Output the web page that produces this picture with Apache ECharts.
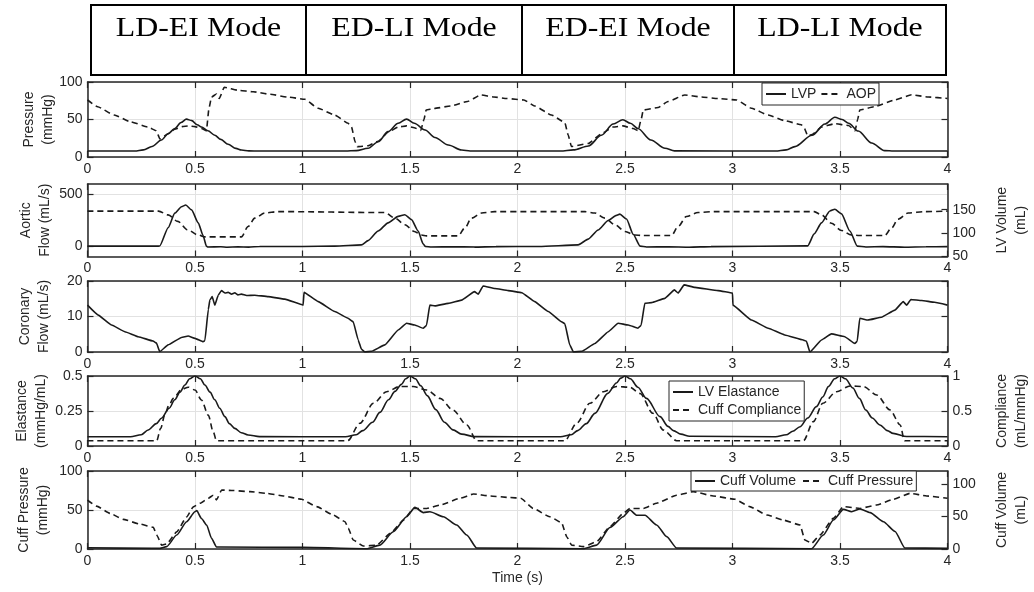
<!DOCTYPE html>
<html><head><meta charset="utf-8">
<script src="https://cdn.jsdelivr.net/npm/echarts@6/dist/echarts.min.js"></script>
<style>html,body{margin:0;padding:0;background:#fff}#c{width:1034px;height:592px}</style>
</head><body><div id="c"></div>
<script>
// ---- DATA (time in s, values in axis units) ----
const modeLabels = ['LD-EI Mode', 'ED-LI Mode', 'ED-EI Mode', 'LD-LI Mode'];

const lvp = [[0,8],[0.22,8],[0.26,9.5],[0.3,14],[0.344,22.7],[0.375,31],[0.406,38],[0.435,46],[0.46,50.5],[0.485,48.5],[0.51,43],[0.53,40],[0.56,35],[0.592,29],[0.62,23.5],[0.654,17],[0.69,11.5],[0.716,9.3],[0.75,8.2],[0.8,8],
 [1.2,8],[1.25,8.5],[1.305,11.6],[1.352,20.4],[1.398,33.8],[1.445,45],[1.484,50.5],[1.52,45],[1.57,36],[1.616,26],[1.678,16],[1.74,9.3],[1.78,8.1],
 [2.2,8],[2.26,9.5],[2.33,14.7],[2.39,29],[2.445,44],[2.49,49.6],[2.525,45],[2.56,38],[2.62,22.7],[2.686,11.6],[2.73,8.2],
 [3.2,8],[3.25,9.5],[3.29,13.8],[3.37,29],[3.43,44],[3.476,53],[3.51,50],[3.54,45],[3.585,34.6],[3.647,18.7],[3.708,8.5],[3.75,8],[4,8]];

const aop = [[0,76],[0.047,67],[0.124,56],[0.2,47],[0.28,40],[0.32,35],[0.337,24],[0.375,31],[0.406,37],[0.44,40.5],[0.47,41.5],[0.5,40.5],[0.53,38],[0.553,35],[0.565,65],[0.577,80],[0.6,84],[0.613,78],[0.636,93],[0.7,89],[0.77,87],[0.85,83.6],[0.93,80],[1.01,77],
 [1.073,65],[1.15,56],[1.212,45],[1.228,40],[1.245,20],[1.255,13.8],[1.305,15],[1.352,21],[1.398,33],[1.445,40],[1.484,41.5],[1.52,39],[1.55,35.5],[1.565,50],[1.575,62.7],[1.612,64.7],[1.69,68],[1.767,74],[1.829,82.7],[1.89,80],[1.95,78],[2.03,76],
 [2.08,68],[2.158,56],[2.22,46],[2.235,30],[2.251,14],[2.329,18],[2.39,31],[2.445,40],[2.49,41.5],[2.538,38],[2.561,35],[2.575,50],[2.585,62.7],[2.654,66],[2.7,74],[2.778,82.7],[2.856,80],[2.933,78],[3.019,76],
 [3.088,65],[3.166,56],[3.24,48.7],[3.32,43],[3.335,38],[3.35,28],[3.37,30],[3.414,40],[3.476,44.4],[3.54,42],[3.57,35],[3.582,50],[3.592,62.7],[3.66,67],[3.755,76],[3.833,83],[3.91,80],[4,78]];

const aorticFlow = [[0,0],[0.33,0],[0.336,2],[0.375,178],[0.406,319],[0.437,381],[0.457,397],[0.484,350],[0.515,225],[0.538,100],[0.553,0],[0.56,-8],[0.62,-6],[0.65,-10],[0.7,-7],[0.75,-9],[0.8,-4],[1.0,-3],[1.15,0],
 [1.274,12],[1.305,53],[1.352,146],[1.398,225],[1.445,287],[1.476,303],[1.507,256],[1.538,146],[1.561,22],[1.572,-3],[1.6,-8],[1.7,-6],[1.8,-9],[1.9,-5],[2.1,-3],
 [2.282,12],[2.329,68],[2.375,156],[2.422,247],[2.46,297],[2.476,309],[2.507,262],[2.538,115],[2.57,0],[2.6,-8],[2.7,-6],[2.8,-10],[2.9,-5],[3.35,3],
 [3.38,118],[3.414,225],[3.453,340],[3.476,356],[3.507,312],[3.546,146],[3.58,0],[3.62,-8],[3.7,-5],[3.8,-10],[3.9,-6],[4,-5]];

const lvVolume = [[0,147],[0.33,147],[0.375,139],[0.42,125],[0.465,107],[0.515,96],[0.546,92],[0.716,92],[0.747,114],[0.778,132],[0.825,143],[0.887,146],
 [1.383,144],[1.43,132],[1.476,118],[1.52,103.5],[1.553,96],[1.577,94],[1.724,94],[1.755,111],[1.786,132],[1.833,143],[1.894,146],
 [2.313,146],[2.36,143],[2.406,132],[2.453,118],[2.5,103.5],[2.546,96],[2.577,95],[2.716,95],[2.747,114],[2.786,135.6],[2.84,144],[2.918,146],
 [3.38,146],[3.414,139],[3.46,121],[3.507,105.6],[3.553,96],[3.59,95],[3.708,95],[3.74,111],[3.77,130],[3.817,143],[3.895,146],[4,147]];

const coronaryFlow = [[0,13.2],[0.05,10.4],[0.112,7.6],[0.174,5.7],[0.236,4.3],[0.305,3.1],[0.321,2.5],[0.336,0.1],[0.375,2],[0.437,4.1],[0.468,4.5],[0.5,3.85],[0.538,2.9],[0.546,3.2],[0.562,12],[0.569,14.6],[0.58,15.6],[0.592,13.2],[0.608,16],[0.623,17.3],[0.64,16.6],[0.654,16.8],[0.67,16.3],[0.685,16.7],[0.7,16.1],[0.716,16.3],[0.74,15.9],[0.778,16],[0.84,15.6],[0.918,14.9],[1.003,13.2],
 [1.007,16.8],[1.073,14.2],[1.15,11.4],[1.212,9.5],[1.236,8.5],[1.259,3.4],[1.274,0.8],[1.29,0],[1.321,0.2],[1.383,2],[1.445,6.2],[1.484,8.1],[1.522,7.6],[1.561,6.7],[1.577,7.5],[1.592,13.2],[1.616,13],[1.678,13.7],[1.74,14.6],[1.8,17],[1.817,16.3],[1.84,18.6],[1.895,17.9],[1.957,17.3],[2.02,16.7],
 [2.08,14.2],[2.143,11.4],[2.205,8.5],[2.22,8],[2.243,2],[2.26,0],[2.3,0.2],[2.36,2.4],[2.422,5.7],[2.468,8.1],[2.515,7.6],[2.56,6.7],[2.575,7.5],[2.592,13.7],[2.623,13.9],[2.685,15.1],[2.73,17.5],[2.747,16.6],[2.775,18.9],[2.825,18.2],[2.933,17.3],[3.0,16.6],
 [3.002,13.2],[3.088,9],[3.166,6.7],[3.243,4.8],[3.329,3.4],[3.344,3],[3.36,0],[3.414,3.4],[3.46,5.1],[3.522,4.3],[3.569,2.4],[3.58,3],[3.592,9.5],[3.63,9],[3.693,9.8],[3.755,11.8],[3.794,14.2],[3.81,13.2],[3.83,14.8],[3.88,14.5],[3.94,14],[4,13.2]];

const lvElastance = [[0,0.066],[0.2,0.066],[0.25,0.08],[0.282,0.114],[0.32,0.16],[0.344,0.198],[0.38,0.27],[0.406,0.33],[0.43,0.385],[0.453,0.436],[0.475,0.48],[0.5,0.5],[0.525,0.48],[0.546,0.436],[0.57,0.385],[0.592,0.33],[0.615,0.27],[0.639,0.21],[0.66,0.16],[0.685,0.126],[0.715,0.095],[0.747,0.079],[0.8,0.067],
 [1.2,0.066],[1.25,0.08],[1.28,0.11],[1.326,0.17],[1.36,0.24],[1.4,0.33],[1.43,0.39],[1.46,0.44],[1.48,0.48],[1.5,0.5],[1.525,0.48],[1.55,0.43],[1.58,0.36],[1.62,0.26],[1.66,0.17],[1.7,0.115],[1.74,0.085],[1.8,0.067],
 [2.2,0.066],[2.25,0.08],[2.28,0.11],[2.32,0.16],[2.36,0.233],[2.42,0.376],[2.46,0.45],[2.48,0.485],[2.5,0.5],[2.525,0.48],[2.56,0.42],[2.6,0.34],[2.663,0.21],[2.7,0.14],[2.725,0.11],[2.76,0.085],[2.8,0.07],
 [3.2,0.066],[3.25,0.08],[3.28,0.105],[3.314,0.138],[3.35,0.2],[3.39,0.281],[3.42,0.35],[3.446,0.424],[3.475,0.48],[3.5,0.5],[3.525,0.48],[3.56,0.414],[3.59,0.34],[3.62,0.257],[3.65,0.2],[3.686,0.15],[3.72,0.11],[3.747,0.09],[3.81,0.068],[4,0.066]];

const cuffCompliance = [[0,0.076],[0.322,0.076],[0.34,0.25],[0.36,0.45],[0.38,0.59],[0.399,0.68],[0.438,0.81],[0.469,0.84],[0.5,0.8],[0.53,0.657],[0.562,0.44],[0.585,0.2],[0.6,0.076],
 [1.21,0.076],[1.267,0.324],[1.33,0.61],[1.391,0.776],[1.453,0.85],[1.515,0.85],[1.578,0.8],[1.64,0.68],[1.7,0.514],[1.764,0.3],[1.81,0.076],
 [2.22,0.076],[2.275,0.324],[2.337,0.61],[2.4,0.776],[2.461,0.85],[2.523,0.84],[2.57,0.75],[2.63,0.467],[2.678,0.229],[2.74,0.076],
 [3.33,0.076],[3.376,0.348],[3.42,0.61],[3.484,0.776],[3.547,0.857],[3.609,0.85],[3.671,0.728],[3.733,0.514],[3.78,0.3],[3.8,0.076],[4,0.076]];

const cuffPressure = [[0,62.8],[0.042,55],[0.105,45.7],[0.166,38],[0.244,32],[0.306,27.8],[0.322,18],[0.345,5],[0.368,6.4],[0.415,22],[0.461,41],[0.492,54],[0.523,58.6],[0.562,65],[0.585,69],[0.6,63],[0.624,75.6],[0.678,75],[0.756,73.5],[0.834,71.4],[0.911,68],[0.996,63.7],
 [1.066,54.3],[1.143,43.6],[1.198,35],[1.213,26.5],[1.236,11.5],[1.283,3.8],[1.345,4.8],[1.408,20],[1.47,37],[1.516,52],[1.578,52],[1.64,56.4],[1.733,65],[1.795,70.5],[1.872,68],[1.965,66],[2.015,65],
 [2.073,52],[2.15,41.4],[2.205,33.8],[2.229,15.8],[2.252,5],[2.306,3],[2.368,9.4],[2.43,28.6],[2.492,45.7],[2.523,52],[2.585,52],[2.647,58.6],[2.74,69],[2.818,73.5],[2.91,68],[3.012,63.7],
 [3.08,54.3],[3.16,43.6],[3.237,37],[3.314,30.8],[3.337,11.5],[3.368,7.3],[3.407,18],[3.469,39.3],[3.516,54.3],[3.593,52],[3.67,56.4],[3.748,63.7],[3.826,71.4],[3.903,68],[4,65]];

const cuffVolume = [[0,2],[0.3,1],[0.337,1],[0.368,3.6],[0.415,21.5],[0.461,42],[0.5,57.4],[0.508,59],[0.53,47],[0.554,37],[0.577,16.4],[0.6,3],[0.62,3],[1.0,2.5],
 [1.298,0.5],[1.36,6],[1.422,26.6],[1.484,49.7],[1.523,64],[1.562,56],[1.593,57.4],[1.655,49.7],[1.717,37],[1.764,21.5],[1.81,1.5],
 [2.306,0.5],[2.368,6],[2.43,33],[2.492,49.7],[2.523,60],[2.554,52],[2.593,52],[2.647,37],[2.694,19],[2.74,1.5],
 [3.368,0.5],[3.422,21.5],[3.469,44.6],[3.516,61],[3.554,57.4],[3.593,61.5],[3.64,55.9],[3.702,42],[3.756,27],[3.802,1.5],[4,1]];

// ---- CHART ----
const AX = '#262626', GC = '#e2e2e2', FONT = 'Liberation Sans';
const chart = echarts.init(document.getElementById('c'), null, {renderer: 'canvas'});

const panels = [
  {top: 82, height: 75},
  {top: 184, height: 72.5},
  {top: 281, height: 71},
  {top: 376, height: 70},
  {top: 471, height: 78}
];
const grid = panels.map(p => ({left: 87.5, width: 860, top: p.top, height: p.height, containLabel: false, outerBoundsMode: 'none'}));

function xAx(i, pos) {
  return {type: 'value', gridIndex: i, min: 0, max: 4, interval: 0.5, position: pos,
    axisLine: {show: true, onZero: false, lineStyle: {color: AX, width: 1.5}},
    axisTick: {show: true, inside: true, length: 6, lineStyle: {color: AX, width: 1.2}},
    axisLabel: {show: pos === 'bottom', color: AX, fontSize: 14, fontFamily: FONT, margin: 5},
    splitLine: {show: pos === 'bottom', lineStyle: {color: GC, width: 1}}};
}
const xAxis = [];
for (let i = 0; i < 5; i++) { xAxis.push(xAx(i, 'bottom')); xAxis.push(xAx(i, 'top')); }
xAxis[8].name = 'Time (s)';
xAxis[8].nameLocation = 'middle';
xAxis[8].nameGap = 22;
xAxis[8].nameMoveOverlap = false;
xAxis[8].nameTextStyle = {color: AX, fontSize: 14, fontFamily: FONT};

function yAx(i, pos, o) {
  const a = {type: 'value', gridIndex: i, position: pos, min: o.min, max: o.max, interval: o.interval,
    axisLine: {show: true, onZero: false, lineStyle: {color: AX, width: 1.5}},
    axisTick: {show: true, inside: true, length: 6, lineStyle: {color: AX, width: 1.2}},
    axisLabel: {show: o.label !== false, color: AX, fontSize: 14, fontFamily: FONT, margin: 5},
    splitLine: {show: !!o.split, lineStyle: {color: GC, width: 1}}};
  if (o.custom) { a.axisLabel.customValues = o.custom; a.axisTick.customValues = o.custom; }
  if (o.name) {
    a.name = o.name; a.nameLocation = 'middle'; a.nameRotate = 90; a.nameGap = o.gap;
    a.nameMoveOverlap = false;
    a.nameTextStyle = {color: AX, fontSize: 14, fontFamily: FONT, lineHeight: 19, align: 'center'};
  }
  return a;
}
const yAxis = [
  yAx(0, 'left', {min: 0, max: 100, interval: 50, split: true, name: 'Pressure\n(mmHg)', gap: 30}),
  yAx(0, 'right', {min: 0, max: 100, interval: 50, label: false}),
  yAx(1, 'left', {min: -100, max: 600, interval: 100, split: true, custom: [0, 500], name: 'Aortic\nFlow (mL/s)', gap: 33}),
  yAx(1, 'right', {min: 50, max: 205, interval: 50, custom: [50, 100, 150], name: 'LV Volume\n(mL)', gap: 45}),
  yAx(2, 'left', {min: 0, max: 20, interval: 10, split: true, name: 'Coronary\nFlow (mL/s)', gap: 34}),
  yAx(2, 'right', {min: 0, max: 20, interval: 10, label: false}),
  yAx(3, 'left', {min: 0, max: 0.5, interval: 0.25, split: true, name: 'Elastance\n(mmHg/mL)', gap: 37}),
  yAx(3, 'right', {min: 0, max: 1, interval: 0.5, name: 'Compliance\n(mL/mmHg)', gap: 45}),
  yAx(4, 'left', {min: 0, max: 100, interval: 50, split: true, name: 'Cuff Pressure\n(mmHg)', gap: 35}),
  yAx(4, 'right', {min: 0, max: 120, interval: 50, custom: [0, 50, 100], name: 'Cuff Volume\n(mL)', gap: 45})
];

function line(name, panel, yIdx, data, dashed, smooth) {
  return {type: 'line', name: name, xAxisIndex: panel * 2, yAxisIndex: yIdx, data: data,
    symbol: 'none', showSymbol: false, smooth: smooth, smoothMonotone: 'x', animation: false,
    lineStyle: {color: '#1a1a1a', width: 1.6, type: dashed ? [6, 4] : 'solid'},
    itemStyle: {color: '#1a1a1a'}};
}
const series = [
  line('LVP', 0, 0, lvp, false, 0.3),
  line('AOP', 0, 0, aop, true, 0.15),
  line('Aortic Flow', 1, 2, aorticFlow, false, 0.2),
  line('LV Volume', 1, 3, lvVolume, true, 0.3),
  line('Coronary Flow', 2, 4, coronaryFlow, false, 0.1),
  line('LV Elastance', 3, 6, lvElastance, false, 0.3),
  line('Cuff Compliance', 3, 7, cuffCompliance, true, 0.3),
  line('Cuff Volume', 4, 9, cuffVolume, false, 0.2),
  line('Cuff Pressure', 4, 8, cuffPressure, true, 0.15)
];

const legBase = {itemWidth: 20, itemHeight: 10, borderColor: AX, borderWidth: 1, backgroundColor: '#fff',
  itemStyle: {opacity: 0, borderWidth: 0},
  selectedMode: false, textStyle: {fontSize: 14, color: AX, fontFamily: FONT}, z: 10};
const legend = [
  Object.assign({}, legBase, {data: ['LVP', 'AOP'], left: 762, top: 83, orient: 'horizontal', itemGap: 4, padding: [4, 3]}),
  Object.assign({}, legBase, {data: ['LV Elastance', 'Cuff Compliance'], left: 669, top: 381, orient: 'vertical', itemGap: 4, padding: [4, 3]}),
  Object.assign({}, legBase, {data: ['Cuff Volume', 'Cuff Pressure'], left: 691, top: 471, orient: 'horizontal', itemGap: 6, padding: [3, 3]})
];

// header table
const cellEdges = [91, 306, 522, 734, 946];
const graphic = [{type: 'rect', shape: {x: 91, y: 5, width: 855, height: 70}, style: {fill: 'none', stroke: '#000', lineWidth: 2}, z: 100}];
for (let k = 1; k < 4; k++) {
  graphic.push({type: 'line', shape: {x1: cellEdges[k], y1: 5, x2: cellEdges[k], y2: 75}, style: {stroke: '#000', lineWidth: 2}, z: 100});
}
modeLabels.forEach((t, k) => {
  graphic.push({type: 'text', x: (cellEdges[k] + cellEdges[k + 1]) / 2, y: 29, scaleX: 1.18, z: 100,
    style: {text: t, fontSize: 27, fontFamily: 'Liberation Serif', fill: '#000', align: 'center', verticalAlign: 'middle'}});
});

chart.setOption({animation: false, backgroundColor: '#fff', grid, xAxis, yAxis, series, legend, graphic});
</script></body></html>
